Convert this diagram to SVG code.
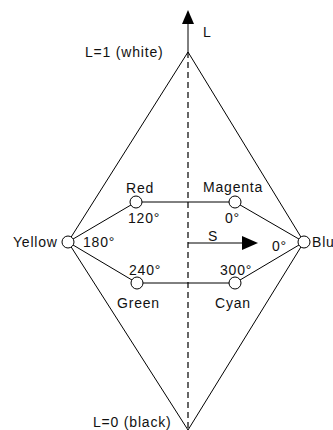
<svg xmlns="http://www.w3.org/2000/svg" width="333" height="430" viewBox="0 0 333 430">
<style>
  .ln{stroke:#000;stroke-width:1;fill:none}
  .dash{stroke:#000;stroke-width:1.2;fill:none;stroke-dasharray:6 4}
  .nd{fill:#fff;stroke:#000;stroke-width:1}
  text{font-family:"Liberation Sans",Arial,sans-serif;font-size:14px;fill:#111;letter-spacing:0.8px}
</style>
<rect width="333" height="430" fill="#fff"/>
<g id="connectors">
  <line class="dash" x1="188" y1="52" x2="188" y2="430"/>
  <polyline class="ln" points="68,242 188,52 304,242 188,430 68,242"/>
  <line class="ln" x1="68" y1="242" x2="136" y2="202"/>
  <line class="ln" x1="68" y1="242" x2="137" y2="283"/>
  <line class="ln" x1="136" y1="202" x2="235" y2="202"/>
  <line class="ln" x1="137" y1="283" x2="235" y2="283"/>
  <line class="ln" x1="235" y1="202" x2="304" y2="242"/>
  <line class="ln" x1="235" y1="283" x2="304" y2="242"/>
  <line class="ln" x1="188" y1="52" x2="188" y2="24"/>
  <polygon points="188,10 182,24 194,24" fill="#000"/>
  <line class="ln" x1="188" y1="243" x2="243" y2="243"/>
  <polygon points="258,243 242,236 242,250" fill="#000"/>
</g>
<g id="axis-L"><text x="203" y="37">L</text></g>
<g id="white"><text x="85" y="57">L=1 (white)</text></g>
<g id="black"><text x="93" y="427">L=0 (black)</text></g>
<g id="axis-S"><text x="208" y="241">S</text></g>
<g id="yellow"><circle class="nd" cx="68" cy="242" r="6"/><text x="13" y="247">Yellow</text><text x="83" y="247">180°</text></g>
<g id="red"><circle class="nd" cx="136" cy="202" r="6"/><text x="126" y="193">Red</text><text x="128" y="223">120°</text></g>
<g id="green"><circle class="nd" cx="137" cy="283" r="6"/><text x="129" y="275">240°</text><text x="117" y="308">Green</text></g>
<g id="magenta"><circle class="nd" cx="235" cy="202" r="6"/><text x="203" y="192">Magenta</text><text x="225" y="223">0°</text></g>
<g id="cyan"><circle class="nd" cx="235" cy="283" r="6"/><text x="220" y="275">300°</text><text x="215" y="308">Cyan</text></g>
<g id="blue"><circle class="nd" cx="304" cy="242" r="6"/><text x="272" y="251">0°</text><text x="312" y="247">Blue</text></g>
</svg>
